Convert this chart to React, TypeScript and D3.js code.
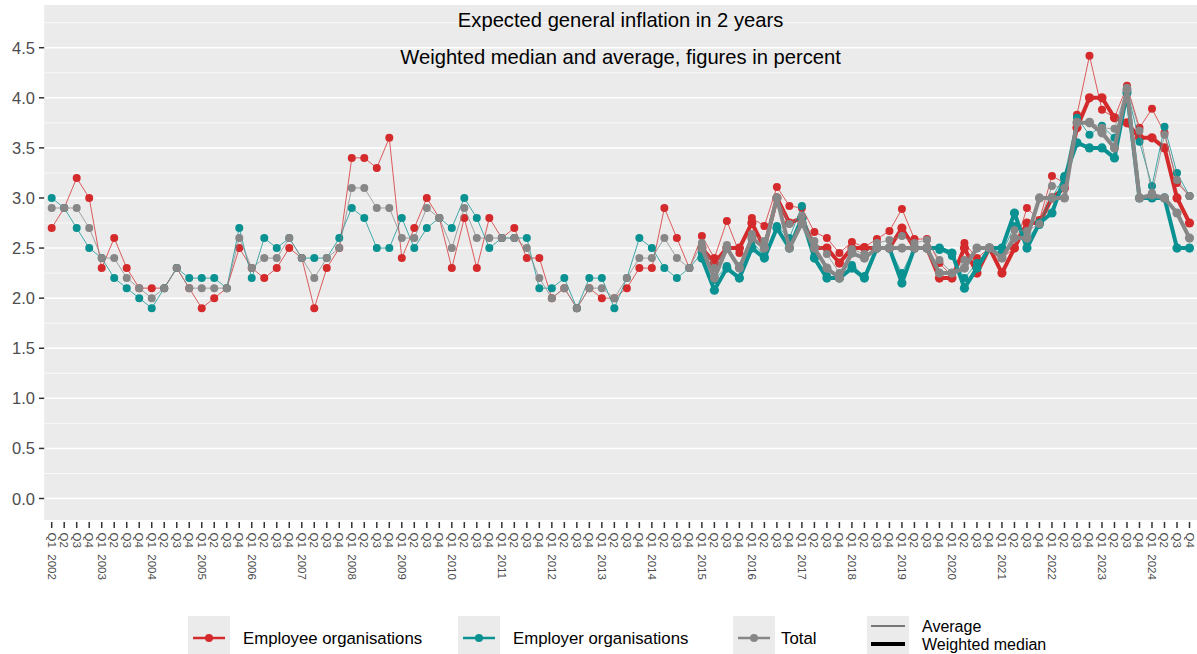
import React from 'react';
import * as d3 from 'd3';

// Expected general inflation in 2 years, quarterly survey 2002-2024
const years = [
  2002, 2003, 2004, 2005, 2006, 2007, 2008, 2009, 2010, 2011, 2012, 2013,
  2014, 2015, 2016, 2017, 2018, 2019, 2020, 2021, 2022, 2023, 2024,
];
const quarterNames = ['Q1', 'Q2', 'Q3', 'Q4'];

// averages, one value per quarter from Q1 2002
const employeeAvg = [
  2.7, 2.9, 3.2, 3.0, 2.3, 2.6, 2.3, 2.1, 2.1, 2.1, 2.3, 2.1,
  1.9, 2.0, 2.1, 2.5, 2.3, 2.2, 2.3, 2.5, 2.4, 1.9, 2.3, 2.5,
  3.4, 3.4, 3.3, 3.6, 2.4, 2.7, 3.0, 2.8, 2.3, 2.8, 2.3, 2.8,
  2.6, 2.7, 2.4, 2.4, 2.0, 2.1, 1.9, 2.1, 2.0, 2.0, 2.1, 2.3,
  2.3, 2.9, 2.6, 2.3, 2.62, 2.4, 2.77, 2.45, 2.8, 2.72, 3.11, 2.92,
  2.9, 2.66, 2.6, 2.45, 2.56, 2.51, 2.59, 2.67, 2.89, 2.59, 2.59, 2.35,
  2.22, 2.55, 2.4, 2.5, 2.4, 2.5, 2.9, 2.78, 3.22, 3.15, 3.83, 4.42,
  3.88, 3.8, 4.12, 3.7, 3.89, 3.65, 3.15, 3.02,
];
const employerAvg = [
  3.0, 2.9, 2.7, 2.5, 2.4, 2.2, 2.1, 2.0, 1.9, 2.1, 2.3, 2.2,
  2.2, 2.2, 2.1, 2.7, 2.2, 2.6, 2.5, 2.6, 2.4, 2.4, 2.4, 2.6,
  2.9, 2.8, 2.5, 2.5, 2.8, 2.5, 2.7, 2.8, 2.7, 3.0, 2.8, 2.5,
  2.6, 2.6, 2.6, 2.1, 2.1, 2.2, 1.9, 2.2, 2.2, 1.9, 2.2, 2.6,
  2.5, 2.3, 2.2, 2.3, 2.45, 2.18, 2.32, 2.2, 2.57, 2.42, 2.72, 2.6,
  2.92, 2.42, 2.22, 2.2, 2.33, 2.22, 2.5, 2.5, 2.25, 2.5, 2.5, 2.48,
  2.42, 2.2, 2.35, 2.5, 2.45, 2.72, 2.6, 2.73, 3.0, 3.22, 3.8, 3.63,
  3.72, 3.6, 4.08, 3.56, 3.12, 3.71, 3.25, 3.02,
];
const totalAvg = [
  2.9, 2.9, 2.9, 2.7, 2.4, 2.4, 2.2, 2.1, 2.0, 2.1, 2.3, 2.1,
  2.1, 2.1, 2.1, 2.6, 2.3, 2.4, 2.4, 2.6, 2.4, 2.2, 2.4, 2.5,
  3.1, 3.1, 2.9, 2.9, 2.6, 2.6, 2.9, 2.8, 2.5, 2.9, 2.6, 2.6,
  2.6, 2.6, 2.5, 2.2, 2.0, 2.1, 1.9, 2.1, 2.1, 2.0, 2.2, 2.4,
  2.4, 2.6, 2.4, 2.3, 2.55, 2.3, 2.53, 2.32, 2.64, 2.57, 3.0, 2.74,
  2.82, 2.57, 2.44, 2.25, 2.49, 2.44, 2.55, 2.58, 2.62, 2.55, 2.58, 2.38,
  2.25, 2.38, 2.5, 2.5, 2.4, 2.68, 2.67, 2.74, 3.12, 3.1, 3.76, 3.76,
  3.7, 3.69, 4.1, 3.67, 3.05, 3.63, 3.18, 3.02,
];

// weighted medians, one value per quarter from Q1 2015
const medianFrom = '2015Q1';
const employeeMedian = [
  2.5, 2.35, 2.5, 2.5, 2.75, 2.5, 3.0, 2.75, 2.8, 2.5, 2.5, 2.35,
  2.5, 2.5, 2.5, 2.5, 2.7, 2.5, 2.5, 2.2, 2.2, 2.5, 2.25, 2.5,
  2.25, 2.5, 2.75, 2.75, 3.0, 3.1, 3.7, 4.0, 4.0, 3.8, 3.75, 3.6,
  3.6, 3.5, 3.0, 2.75,
];
const employerMedian = [
  2.4, 2.08, 2.3, 2.2, 2.5, 2.4, 2.7, 2.5, 2.8, 2.4, 2.2, 2.2,
  2.3, 2.2, 2.5, 2.5, 2.15, 2.5, 2.5, 2.5, 2.45, 2.1, 2.3, 2.5,
  2.5, 2.85, 2.5, 2.75, 2.85, 3.2, 3.55, 3.5, 3.5, 3.4, 4.05, 3.0,
  3.0, 3.0, 2.5, 2.5,
];
const totalMedian = [
  2.5, 2.2, 2.5, 2.3, 2.6, 2.5, 3.0, 2.5, 2.75, 2.5, 2.3, 2.2,
  2.45, 2.4, 2.5, 2.5, 2.5, 2.5, 2.5, 2.25, 2.25, 2.3, 2.5, 2.5,
  2.4, 2.6, 2.6, 3.0, 3.0, 3.0, 3.75, 3.75, 3.65, 3.5, 4.08, 3.0,
  3.03, 3.0, 2.85, 2.6,
];

const yTicks = [0, 0.5, 1, 1.5, 2, 2.5, 3, 3.5, 4, 4.5];
const yMinor = [0.25, 0.75, 1.25, 1.75, 2.25, 2.75, 3.25, 3.75, 4.25, 4.75];

const seriesNames = ['Employee organisations', 'Employer organisations', 'Total'];
const seriesColors = ['#d42a2c', '#0a9191', '#878787'];

const W = 1197;
const H = 654;
const FONT = "'Liberation Sans', Arial, Helvetica, sans-serif";

export default function App() {
  const keys: string[] = [];
  years.forEach((yr) => quarterNames.forEach((q) => keys.push(`${yr}${q}`)));

  const panel = { left: 44.2, right: W, top: 5, bottom: 520 };
  const x = d3.scalePoint<string>().domain(keys).range([51.7, 1189.5]);
  const y = d3.scaleLinear().domain([0, 4.5]).range([498.5, 47.7]);

  const startIdx = keys.indexOf(medianFrom);
  const avgs = [employeeAvg, employerAvg, totalAvg];
  const meds = [employeeMedian, employerMedian, totalMedian];

  const line = d3
    .line<[string, number]>()
    .x((d) => x(d[0]) as number)
    .y((d) => y(d[1]));

  const layers: JSX.Element[] = [];
  seriesNames.forEach((name, si) => {
    const avgPts: [string, number][] = avgs[si].map((v, i) => [keys[i], v]);
    const medPts: [string, number][] = meds[si].map((v, i) => [keys[startIdx + i], v]);
    const c = seriesColors[si];
    layers.push(
      <g key={name}>
        <path d={line(avgPts) || ''} fill="none" stroke={c} strokeWidth={1} strokeOpacity={0.75} />
        {avgPts.map((d) => (
          <circle key={'a' + d[0]} cx={x(d[0])} cy={y(d[1])} r={4} fill={c} />
        ))}
        <path d={line(medPts) || ''} fill="none" stroke={c} strokeWidth={4} strokeLinejoin="round" />
        {medPts.map((d) => (
          <circle key={'m' + d[0]} cx={x(d[0])} cy={y(d[1])} r={4.6} fill={c} />
        ))}
      </g>
    );
  });

  const legendItems = [
    { box: 188, text: 243 },
    { box: 458, text: 513 },
    { box: 733, text: 781 },
  ];

  return (
    <>
      <style>{'body{margin:0;overflow:hidden;background:#fff}'}</style>
      <svg width={W} height={H} style={{ display: 'block', fontFamily: FONT }}>
        <rect x={0} y={0} width={W} height={H} fill="#fff" />
        <rect
          x={panel.left}
          y={panel.top}
          width={panel.right - panel.left}
          height={panel.bottom - panel.top}
          fill="#ebebeb"
        />
        {yMinor.map((t) => (
          <line key={'mi' + t} x1={panel.left} x2={panel.right} y1={y(t)} y2={y(t)} stroke="#fff" strokeWidth={0.7} />
        ))}
        {yTicks.map((t) => (
          <line key={'ma' + t} x1={panel.left} x2={panel.right} y1={y(t)} y2={y(t)} stroke="#fff" strokeWidth={1.5} />
        ))}

        {layers}

        <text x={620.6} y={20} textAnchor="middle" dominantBaseline="central" fontSize={20.2} fill="#000">
          Expected general inflation in 2 years
        </text>
        <text x={620.6} y={57} textAnchor="middle" dominantBaseline="central" fontSize={20.2} fill="#000">
          Weighted median and average, figures in percent
        </text>

        {/* y axis */}
        {yTicks.map((t) => (
          <g key={'yt' + t}>
            <line x1={39} x2={44.2} y1={y(t)} y2={y(t)} stroke="#333" strokeWidth={1.5} />
            <text x={35} y={y(t)} textAnchor="end" dominantBaseline="central" fontSize={16.5} fill="#4d4d4d">
              {t.toFixed(1)}
            </text>
          </g>
        ))}

        {/* x axis */}
        {keys.map((k) => {
          const q = k.slice(4);
          const yr = k.slice(0, 4);
          const px = x(k) as number;
          return (
            <g key={'xt' + k}>
              <line x1={px} x2={px} y1={panel.bottom + 2} y2={panel.bottom + 8} stroke="#333" strokeWidth={1.5} />
              <text
                transform={`translate(${px},${panel.bottom + 12.5}) rotate(90)`}
                dominantBaseline="central"
                fontSize={11.5}
                fill="#4d4d4d"
                style={{ whiteSpace: 'pre' }}
              >
                {q === 'Q1' ? `${q}  ${yr}` : q}
              </text>
            </g>
          );
        })}

        {/* legend: colour */}
        {legendItems.map((it, i) => (
          <g key={'lg' + i}>
            <rect x={it.box} y={616} width={42} height={38} fill="#ebebeb" />
            <line x1={it.box + 5} x2={it.box + 37} y1={638} y2={638} stroke={seriesColors[i]} strokeWidth={2.5} />
            <circle cx={it.box + 21} cy={638} r={4} fill={seriesColors[i]} />
            <text x={it.text} y={638} dominantBaseline="central" fontSize={16.8} fill="#000">
              {seriesNames[i]}
            </text>
          </g>
        ))}

        {/* legend: line type */}
        <rect x={867} y={616} width={42} height={38} fill="#ebebeb" />
        <line x1={871} x2={905} y1={626} y2={626} stroke="#000" strokeWidth={1} />
        <line x1={871} x2={905} y1={644} y2={644} stroke="#000" strokeWidth={4} />
        <text x={922} y={626} dominantBaseline="central" fontSize={16} fill="#000">
          Average
        </text>
        <text x={922} y={644} dominantBaseline="central" fontSize={16} fill="#000">
          Weighted median
        </text>
      </svg>
    </>
  );
}
